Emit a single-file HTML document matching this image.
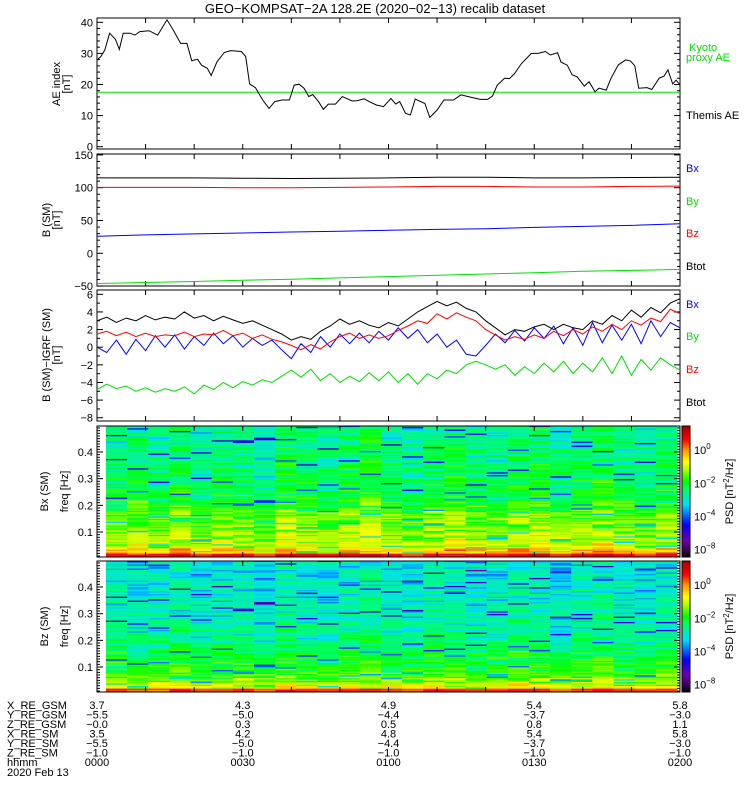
<!DOCTYPE html>
<html><head><meta charset="utf-8"><style>
body{margin:0;background:#fff}
svg{display:block;font-family:"Liberation Sans",sans-serif}
text{font-size:11px}
</style></head><body>
<svg id="c" width="750" height="800" viewBox="0 0 750 800">
<text x="375" y="13" text-anchor="middle" style="font-size:13px">GEO−KOMPSAT−2A 128.2E (2020−02−13) recalib dataset</text>
</svg>
<script>
// ---- data ----
const aeTimes=[0,0.8,1.6,2.6,3.8,4.6,5.4,6.8,7.8,8.8,10.7,12.5,14.4,15.7,17.2,18.5,19.5,20.7,21.5,22.7,23.5,24.7,26.2,27.5,29.7,30.6,31.4,32.6,34.1,35.4,36.6,38.1,39.6,40.6,41.6,42.6,43.6,44.4,45.6,46.6,47.6,49.1,50.5,52.5,53.5,55,56,57.5,59,60.5,61.5,62.3,63.5,64.5,65.5,67.5,68.5,70,71.4,73.4,74.9,76.4,78.9,80.4,81.4,82.4,83.9,84.9,85.9,87.4,89.4,90.8,92.3,93.3,94.8,95.5,96.8,97.8,98.8,100.3,101.3,102.5,103.3,104.8,105.8,107.3,108.8,109.8,110.7,111.5,113.2,114.2,115.7,116.7,117.5,118.5,119.2,120];
const aeThemis=[27.9,29,31.1,36.5,34.5,31.3,36.5,36.5,35.9,37,37.3,35.9,40.8,37.5,33.2,33.2,27.7,28.1,26.2,25.2,22.9,27.3,30.3,30.9,30.6,29,20.2,19,15,12.3,14.5,15,15,19.8,20.1,18.8,16.1,16.8,14.5,12,13.7,13.7,16.1,14.7,14.8,15.4,14.5,13.4,12.9,15.5,13.7,14.5,10.7,10.2,15.3,13.9,9.4,11.8,15,15,16.7,16.1,15.2,15.2,16.3,19.8,22,21.9,23.4,26.8,30,30,30.6,29.5,30.2,27.2,26.2,23.1,22.5,19.5,20.9,17.7,18.8,18.2,22,26.3,27.9,27.6,26,18.8,19,18.4,22,22.7,24.7,20.2,21.4,19.8];
const aeKyoto=[17.5,17.5];
const aeKyotoTimes=[0,120];
const bTimes=[0,10,20,30,40,50,60,70,80,90,100,110,120];
const bTot=[115,115,115,114.5,114,114.5,115,116,116,115,115,115.5,116];
const bZ=[100.5,100.5,100.5,100,100,100.5,101,102,102,101,101,102,102.5];
const bX=[26,28,29.5,31,32.5,33.5,35,36.5,37.5,39.5,41,42.5,45];
const bY=[-46,-44.5,-43,-41,-39.5,-37.5,-35.5,-33.5,-31.5,-29.5,-27.5,-26,-24.5];
const dTot=[3.0,3.4,2.8,3.3,3.0,3.6,3.1,3.4,3.2,4.0,3.3,3.6,3.0,3.5,3.1,2.7,3.0,2.5,2.0,1.5,0.8,1.2,0.9,1.8,2.4,3.2,2.6,3.0,2.5,2.2,2.8,2.4,3.2,4.0,4.6,5.2,4.7,5.1,4.4,4.0,3.0,2.2,1.4,2.0,1.8,2.3,2.6,2.0,2.6,2.2,2.0,3.0,2.6,3.6,3.0,4.2,3.4,4.5,3.9,5.0,5.5];
const dZ=[1.5,1.8,1.3,1.7,1.2,1.6,1.2,1.4,1.3,1.7,1.2,1.5,1.4,1.9,1.3,1.6,1.0,1.4,0.9,0.6,0.2,-0.3,0.3,-0.2,0.6,1.2,1.6,1.0,1.4,1.0,1.3,1.9,2.4,3.0,2.7,3.8,3.2,3.9,3.4,3.0,2.0,1.4,0.8,1.2,0.9,1.4,1.0,1.8,1.3,2.0,1.5,2.3,1.8,2.6,2.0,3.0,2.5,3.3,2.9,4.3,3.8];
const dX=[0.0,-0.6,0.8,-0.8,0.9,-0.4,1.3,0.0,1.4,-0.2,1.2,0.2,1.6,0.4,1.3,0.0,1.0,0.2,0.8,-0.3,-1.3,0.4,-0.6,1.2,0.0,1.5,0.4,1.6,0.5,1.8,0.8,2.2,1.0,2.0,0.5,1.5,0.0,0.8,-0.8,-1.0,0.2,1.5,0.5,1.9,0.7,2.2,1.0,2.4,0.4,2.2,0.2,2.8,0.5,2.5,0.8,2.6,0.4,3.0,1.2,2.8,2.2];
const dY=[-4.8,-4.2,-4.7,-4.4,-5.0,-4.6,-5.1,-4.7,-5.0,-4.5,-5.3,-4.3,-4.8,-4.0,-4.6,-3.9,-4.3,-3.7,-4.0,-3.3,-2.6,-3.4,-2.5,-3.8,-3.0,-4.0,-3.3,-3.9,-2.9,-3.8,-2.8,-4.0,-3.0,-4.2,-3.0,-3.6,-2.6,-3.0,-2.0,-1.6,-2.0,-2.5,-2.0,-3.2,-2.2,-3.0,-1.8,-2.8,-1.6,-3.0,-1.8,-2.8,-1.2,-3.0,-1.0,-3.2,-1.4,-2.6,-1.2,-2.0,-2.6];
const specBxProfile=[0.6,-0.4,-1.0,-1.2,-1.3,-1.4,-1.5,-1.5,-1.6,-1.9,-2.0,-2.2,-2.2,-2.3,-2.3,-2.4,-2.4,-2.4,-2.5,-2.5,-2.5,-2.6,-2.6,-2.6,-2.6];
const specBzProfile=[0.4,-0.9,-1.4,-1.7,-1.9,-2.0,-2.1,-2.2,-2.4,-2.5,-2.6,-2.7,-2.7,-2.8,-2.8,-2.9,-2.9,-2.9,-3.0,-3.0,-3.0,-3.0,-3.1,-3.1,-3.1];
const specBxCols=[0,0.1,-0.1,0.2,-0.2,0.1,0,-0.3,0.3,0.1,-0.1,0.2,0.4,0,-0.2,0.1,0.3,0,-0.1,0.2,0.3,-0.1,0.1,0.3,0,-0.2,0.1];
const specBzCols=[0.1,-0.1,0,0.2,-0.1,0,0.1,-0.2,0.2,0,-0.1,0.1,0.2,0,-0.1,0.2,0.1,-0.1,0,0.2,0.1,-0.2,0.1,0.2,0,-0.1,0.1];
const specJitter=[0.3,-0.4,0.1,-0.2,0.5,-0.7,0.2,-0.1,0.4,-0.5,0,0.3,-0.3,-2.2,0.1,0.4,-0.2,0.2,-0.6,0.3,-0.1,0.5,-0.9,0,0.2,-0.3,0.4,-0.4,0.1,-0.8,0.3,0.0,-0.2,0.6,-0.4,0.2,-1.9,0.1,-0.3,0.4,0.0,-0.6,0.3,-0.1,0.2,-0.5,0.1];
const ephemLabels=["X_RE_GSM","Y_RE_GSM","Z_RE_GSM","X_RE_SM","Y_RE_SM","Z_RE_SM","hhmm"];
const ephemVals=[["3.7","4.3","4.9","5.4","5.8"],["−5.5","−5.0","−4.4","−3.7","−3.0"],["−0.0","0.3","0.5","0.8","1.1"],["3.5","4.2","4.8","5.4","5.8"],["−5.5","−5.0","−4.4","−3.7","−3.0"],["−1.0","−1.0","−1.0","−1.0","−1.0"],["0000","0030","0100","0130","0200"]];
const ephemTimes=[0,30,60,90,120];

// ---- helpers ----
const S=document.getElementById('c'),NS='http://www.w3.org/2000/svg';
function mk(tag,at,par){const e=document.createElementNS(NS,tag);for(const k in at)e.setAttribute(k,at[k]);(par||S).appendChild(e);return e;}
const XL=97,XR=680;
const X=t=>XL+t/120*(XR-XL);
function lin(v0,p0,v1,p1){return v=>p0+(v-v0)*(p1-p0)/(v1-v0);}

function frame(top,bot,name){
  const g=mk('g',{});
  
  
  mk('rect',{x:XL,y:top,width:XR-XL,height:bot-top,fill:'none',stroke:'#000','stroke-width':1},g);
  for(let t=10;t<120;t+=10){mk('line',{x1:X(t),x2:X(t),y1:top,y2:top+5,stroke:'#000'},g);mk('line',{x1:X(t),x2:X(t),y1:bot,y2:bot-5,stroke:'#000'},g);}
  return g;
}
function yticks(g,ys,majors,minStep,vmin,vmax,fmt){
  for(let v=vmin;v<=vmax+1e-9;v+=minStep){const y=ys(v);const isM=majors.some(m=>Math.abs(m-v)<1e-6);const L=isM?6:3;
    mk('line',{x1:XL,x2:XL+L,y1:y,y2:y,stroke:'#000'},g);mk('line',{x1:XR,x2:XR-L,y1:y,y2:y,stroke:'#000'},g);}
  majors.forEach(m=>{const t=mk('text',{x:XL-4,y:ys(m)+4,'text-anchor':'end'},g);t.textContent=fmt?fmt(m):String(m).replace('-','−');});
}
function line(ts,vs,ys,color,name,top,bot){
  let d='';ts.forEach((t,i)=>{d+=(i?'L':'M')+X(t).toFixed(1)+','+Math.max(top,Math.min(bot,ys(vs[i]))).toFixed(1);});
  const p=mk('path',{d:d,fill:'none',stroke:color,'stroke-width':1});
  
  
}
function label(x,y,txt,color,name,anchor){const t=mk('text',{x:x,y:y,fill:color,'text-anchor':anchor||'start'});t.textContent=txt;
  
  return t;}
function vlabel(x,y,lines,name){const g=mk('g',{transform:`translate(${x},${y}) rotate(-90)`});
  
  
  lines.forEach((l,i)=>{const t=mk('text',{x:0,y:i*10,'text-anchor':'middle'},g);t.textContent=l;});}

// ---- panel 1 ----
const y1=lin(0,146.7,40,22.3);
const g1=frame(18,149,'ae-panel');
yticks(g1,y1,[0,10,20,30,40],2,0,40);
line(aeKyotoTimes,aeKyoto,y1,'#00e000','kyoto-ae-line',18,149);
line(aeTimes,aeThemis,y1,'#000','themis-ae-line',18,149);
vlabel(60,84,['AE index','[nT]'],'ae-y-title');
label(689,51,'Kyoto','#00e000','legend-kyoto');label(686,61,'proxy AE','#00e000','legend-proxy-ae');
label(686,119,'Themis AE','#000','legend-themis-ae');

// ---- panel 2 ----
const y2=lin(0,253.3,50,220.5);
const g2=frame(154,286,'b-sm-panel');
yticks(g2,y2,[-50,0,50,100,150],10,-50,150);
line(bTimes,bTot,y2,'#000','btot-line',154,286);
line(bTimes,bZ,y2,'#f00','bz-line',154,286);
line(bTimes,bX,y2,'#00f','bx-line',154,286);
line(bTimes,bY,y2,'#00e000','by-line',154,286);
vlabel(50,220,['B (SM)','[nT]'],'b-sm-y-title');
label(686,172,'Bx','#00f','legend-bx');label(686,205,'By','#00e000','legend-by');
label(686,237,'Bz','#f00','legend-bz');label(686,270,'Btot','#000','legend-btot');

// ---- panel 3 ----
const y3=lin(0,347.2,6,294.3);
const g3=frame(290,421,'b-igrf-panel');
yticks(g3,y3,[-8,-6,-4,-2,0,2,4,6],1,-8,6);
const dT=dTot.map((_,i)=>i*2);
line(dT,dY,y3,'#00e000','dby-line',290,421);
line(dT,dX,y3,'#00f','dbx-line',290,421);
line(dT,dZ,y3,'#f00','dbz-line',290,421);
line(dT,dTot,y3,'#000','dbtot-line',290,421);
vlabel(50,355,['B (SM)−IGRF (SM)','[nT]'],'b-igrf-y-title');
label(686,308,'Bx','#00f','legend-dbx');label(686,340,'By','#00e000','legend-dby');
label(686,373,'Bz','#f00','legend-dbz');label(686,406,'Btot','#000','legend-dbtot');

// ---- spectrograms ----
const stops=[[0,[0,0,0]],[0.06,[60,0,90]],[0.13,[110,0,170]],[0.25,[0,0,255]],[0.4,[0,220,255]],[0.52,[0,255,100]],[0.58,[0,255,0]],[0.68,[190,255,0]],[0.73,[255,255,0]],[0.82,[255,150,0]],[0.9,[255,0,0]],[1,[170,0,0]]];
function cmap(u){u=Math.max(0,Math.min(1,u));for(let i=1;i<stops.length;i++){if(u<=stops[i][0]){const a=stops[i-1],b=stops[i],f=(u-a[0])/(b[0]-a[0]);const c=a[1].map((v,k)=>Math.round(v+(b[1][k]-v)*f));return `rgb(${c})`;}}return 'rgb(170,0,0)';}
const LOGMIN=-6.5,LOGMAX=1.4;
function spec(top,bot,profile,cols,name,title,seed){
  const yf=lin(0,bot+1.7,0.5,bot+1.7-133.4);
  const g=mk('g',{});
  
  
  const x0=106,cw=(677-106)/cols.length,J=specJitter.length;
  for(let c=0;c<cols.length;c++)for(let r=0;r<100;r++){
    const v=profile[Math.floor(r/4)]+cols[c]+specJitter[(r*17+c*29+r*c+seed)%J]*(r<4?0.2:1);
    const ya=Math.max(top,yf((r+1)*0.005)),yb=Math.min(bot,yf(r*0.005));
    if(yb<=ya)continue;
    mk('rect',{x:(x0+c*cw).toFixed(2),y:ya.toFixed(2),width:(cw+0.3).toFixed(2),height:(yb-ya+0.3).toFixed(2),fill:cmap((v-LOGMIN)/(LOGMAX-LOGMIN))},g);
  }
  const fg=frame(top,bot,name);
  for(let f=0;f<=0.5;f+=0.01){const y=yf(f);if(y<top||y>bot)continue;const L=(Math.round(f*100)%10===0)?6:3;
    mk('line',{x1:XL,x2:XL+L,y1:y,y2:y,stroke:'#000'},fg);mk('line',{x1:XR,x2:XR-L,y1:y,y2:y,stroke:'#000'},fg);}
  [0.1,0.2,0.3,0.4].forEach(f=>{const t=mk('text',{x:XL-4,y:yf(f)+4,'text-anchor':'end'},fg);t.textContent=String(f);});
  vlabel(48,(top+bot)/2,[title],name+'-y-title');
  vlabel(68,(top+bot)/2,['freq [Hz]'],name+'-freq-title');
  const cb=mk('g',{});
  
  
  const h=bot-top;
  for(let i=0;i<h;i++)mk('rect',{x:682,y:top+i,width:8,height:1.2,fill:cmap(1-i/h)},cb);
  mk('rect',{x:682,y:top,width:8,height:h,fill:'none',stroke:'#000'},cb);
  const yl=lin(LOGMAX,top,LOGMIN,bot);
  [[0,'0',yl(0)],[-2,'−2',yl(-2)],[-4,'−4',yl(-4)],[-6,'−8',yl(-6)]].forEach(a=>{
    const t=mk('text',{x:694,y:a[2]+5},cb);t.textContent='10';const s=mk('tspan',{dy:-5,style:'font-size:8px'},t);s.textContent=a[1];});
  const pl=mk('g',{transform:`translate(733,${(top+bot)/2}) rotate(-90)`},cb);
  const pt=mk('text',{x:0,y:0,'text-anchor':'middle'},pl);pt.textContent='PSD [nT';const s2=mk('tspan',{dy:-4,style:'font-size:8px'},pt);s2.textContent='2';const s3=mk('tspan',{dy:4},pt);s3.textContent='/Hz]';
}
spec(426,557,specBxProfile,specBxCols,'bx-spectrogram','Bx (SM)',0);
spec(561,692,specBzProfile,specBzCols,'bz-spectrogram','Bz (SM)',11);

// ---- ephemeris ----
const eg=mk('g',{});


ephemLabels.forEach((l,i)=>{const y=709+i*9.5;const t=mk('text',{x:7,y:y},eg);t.textContent=l;
  ephemVals[i].forEach((v,j)=>{const u=mk('text',{x:X(ephemTimes[j]),y:y,'text-anchor':'middle'},eg);u.textContent=v;});});
const dt=mk('text',{x:7,y:776},eg);dt.textContent='2020 Feb 13';
</script>
</body></html>
